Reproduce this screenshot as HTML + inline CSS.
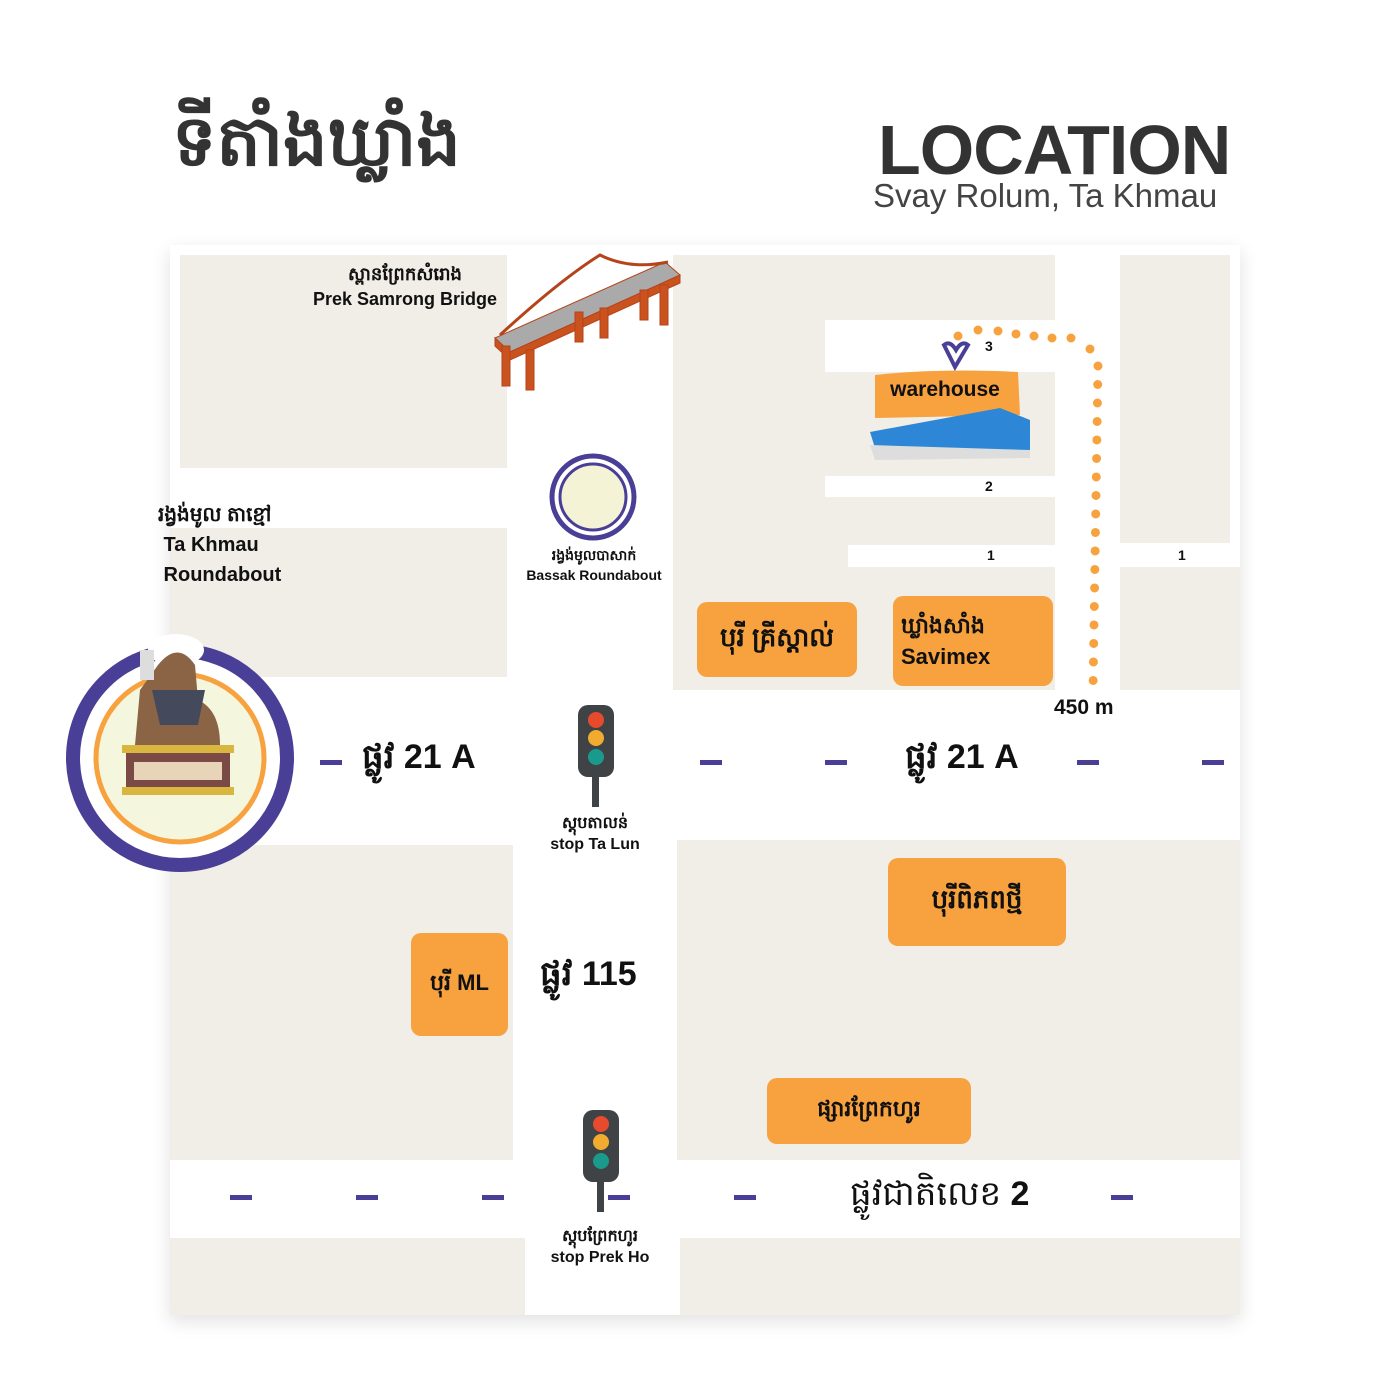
<!DOCTYPE html>
<html><head><meta charset="utf-8"><style>
body{margin:0;width:1400px;height:1400px;background:#fff;position:relative;overflow:hidden;font-family:"Liberation Sans","Noto Sans CJK SC",sans-serif}
.a{position:absolute}
.b{position:absolute;background:#f1ede7}
.w{position:absolute;background:#fff}
.o{position:absolute;background:#f7a23e;border-radius:10px;display:flex;align-items:center;justify-content:center;font-weight:bold;color:#111;text-align:center}
.d{position:absolute;width:22px;height:5px;background:#4a3f96}
.t{position:absolute;font-weight:bold;color:#111;text-align:center;white-space:nowrap}
.road{position:absolute;font-weight:bold;color:#111;font-size:34px;white-space:nowrap}
</style></head><body>
<div class="a" style="left:172px;top:98px;font-size:70px;font-weight:bold;color:#333">ទីតាំងឃ្លាំង</div>
<div class="a" style="left:878px;top:110px;font-size:70px;font-weight:bold;color:#333;letter-spacing:-1px">LOCATION</div>
<div class="a" style="left:873px;top:177px;font-size:33px;color:#444">Svay Rolum, Ta Khmau</div>

<div class="a" style="left:170px;top:245px;width:1070px;height:1070px;background:#fff;box-shadow:0 6px 18px rgba(0,0,0,0.12)"></div>
<div class="b" style="left:180px;top:255px;width:327px;height:213px"></div>
<div class="b" style="left:170px;top:528px;width:337px;height:149px"></div>
<div class="b" style="left:673px;top:255px;width:382px;height:435px"></div>
<div class="w" style="left:825px;top:320px;width:230px;height:52px"></div>
<div class="w" style="left:825px;top:476px;width:232px;height:21px"></div>
<div class="w" style="left:848px;top:545px;width:392px;height:22px"></div>
<div class="b" style="left:1120px;top:255px;width:110px;height:288px"></div>
<div class="b" style="left:1120px;top:567px;width:120px;height:123px"></div>
<div class="b" style="left:170px;top:845px;width:343px;height:315px"></div>
<div class="b" style="left:677px;top:840px;width:563px;height:320px"></div>
<div class="b" style="left:170px;top:1238px;width:355px;height:77px"></div>
<div class="b" style="left:680px;top:1238px;width:560px;height:77px"></div>

<div class="d" style="left:320px;top:760px"></div>
<div class="d" style="left:700px;top:760px"></div>
<div class="d" style="left:825px;top:760px"></div>
<div class="d" style="left:1077px;top:760px"></div>
<div class="d" style="left:1202px;top:760px"></div>
<div class="d" style="left:230px;top:1195px"></div>
<div class="d" style="left:356px;top:1195px"></div>
<div class="d" style="left:482px;top:1195px"></div>
<div class="d" style="left:608px;top:1195px"></div>
<div class="d" style="left:734px;top:1195px"></div>
<div class="d" style="left:1111px;top:1195px"></div>

<div class="road" style="left:362px;top:735px">ផ្លូវ 21 A</div>
<div class="road" style="left:905px;top:735px">ផ្លូវ 21 A</div>
<div class="road" style="left:540px;top:952px">ផ្លូវ 115</div>
<div class="road" style="left:850px;top:1172px;font-weight:normal">ផ្លូវជាតិលេខ <b>2</b></div>

<svg class="a" style="left:0;top:0" width="1400" height="1400">
<g stroke="#b5441b" fill="#c9521f">
<polygon points="495,338 665,262 680,275 510,352" fill="#aaa"/>
<polygon points="495,338 510,352 510,360 495,346"/>
<polygon points="510,352 680,275 680,283 510,360"/>
<rect x="502" y="346" width="8" height="40"/><rect x="526" y="350" width="8" height="40"/>
<rect x="575" y="312" width="8" height="30"/><rect x="600" y="308" width="8" height="30"/>
<rect x="640" y="290" width="8" height="30"/><rect x="660" y="285" width="8" height="40"/>
<path d="M500,335 Q560,280 600,255 Q630,270 668,262" fill="none" stroke-width="3"/>
</g>
<circle cx="593" cy="497" r="41" fill="#fff" stroke="#4a3f96" stroke-width="5"/>
<circle cx="593" cy="497" r="33" fill="#f5f3d5" stroke="#4a3f96" stroke-width="3"/>
<circle cx="180" cy="758" r="107" fill="#fff" stroke="#4a3f96" stroke-width="14"/>
<circle cx="180" cy="758" r="84" fill="#f4f6dd" stroke="#f7a23e" stroke-width="5"/>
<ellipse cx="176" cy="650" rx="28" ry="16" fill="#fff"/>
<path d="M158,665 Q178,640 195,665 L198,700 Q220,710 220,745 L135,745 L140,690 Z" fill="#8b6446"/>
<path d="M152,690 L205,690 L198,725 L160,725 Z" fill="#444a5c"/>
<rect x="140" y="650" width="14" height="30" fill="#ddd"/>
<rect x="122" y="745" width="112" height="8" fill="#d9b640"/>
<rect x="126" y="753" width="104" height="34" fill="#7b4a45"/>
<rect x="134" y="762" width="88" height="18" fill="#e8d4b8"/>
<rect x="122" y="787" width="112" height="8" fill="#d9b640"/>
<g fill="#f7a23e">
<circle cx="958" cy="336" r="4.5"/><circle cx="978" cy="330" r="4.5"/><circle cx="998" cy="331" r="4.5"/><circle cx="1016" cy="334" r="4.5"/><circle cx="1034" cy="336" r="4.5"/><circle cx="1052" cy="338" r="4.5"/><circle cx="1071" cy="338" r="4.5"/><circle cx="1090" cy="349" r="4.5"/>
</g>
<line x1="1098" y1="366" x2="1093" y2="690" stroke="#f7a23e" stroke-width="9" stroke-dasharray="0 18.5" stroke-linecap="round"/>
<path d="M944,345 L955,367 L968,345 Q962,340 956,350 Q950,340 944,345Z" fill="none" stroke="#4a3f96" stroke-width="4"/>
<path d="M875,375 Q940,368 1018,372 L1020,415 L875,418 Z" fill="#f7a23e"/>
<polygon points="870,432 1000,408 1030,420 1030,455 875,448" fill="#2e86d6"/>
<polygon points="870,445 875,460 1030,458 1030,450" fill="#ddd"/>
<rect x="1015" y="610" width="22" height="60" fill="#d42b2b"/><rect x="1010" y="605" width="34" height="8" rx="4" fill="#d42b2b"/>
<rect x="1020" y="625" width="12" height="12" fill="#eee"/>
<g>
<rect x="578" y="705" width="36" height="72" rx="10" fill="#3f4346"/>
<circle cx="596" cy="720" r="8" fill="#e84a2e"/><circle cx="596" cy="738" r="8" fill="#f1ac2f"/><circle cx="596" cy="757" r="8" fill="#1a9a8c"/>
<rect x="592" y="777" width="7" height="30" fill="#3f4346"/>
<rect x="583" y="1110" width="36" height="72" rx="10" fill="#3f4346"/>
<circle cx="601" cy="1124" r="8" fill="#e84a2e"/><circle cx="601" cy="1142" r="8" fill="#f1ac2f"/><circle cx="601" cy="1161" r="8" fill="#1a9a8c"/>
<rect x="597" y="1182" width="7" height="30" fill="#3f4346"/>
</g>
</svg>

<div class="t" style="left:300px;top:262px;width:210px;font-size:18px">ស្ពានព្រែកសំរោង<br>Prek Samrong Bridge</div>
<div class="t" style="left:158px;top:500px;font-size:20px;text-align:left;line-height:30px">រង្វង់មូល តាខ្មៅ<br>&nbsp;Ta Khmau<br>&nbsp;Roundabout</div>
<div class="t" style="left:515px;top:546px;width:158px;font-size:14px">រង្វង់មូលបាសាក់<br>Bassak Roundabout</div>
<div class="t" style="left:880px;top:378px;width:130px;font-size:21px">warehouse</div>
<div class="t" style="left:985px;top:338px;font-size:14px">3</div>
<div class="t" style="left:985px;top:478px;font-size:14px">2</div>
<div class="t" style="left:987px;top:547px;font-size:14px">1</div>
<div class="t" style="left:1178px;top:547px;font-size:14px">1</div>
<div class="t" style="left:1054px;top:696px;font-size:21px">450 m</div>
<div class="o" style="left:697px;top:602px;width:160px;height:75px;font-size:26px">បុរី គ្រីស្តាល់</div>
<div class="o" style="left:893px;top:596px;width:160px;height:90px;font-size:22px;justify-content:flex-start;padding-left:8px;box-sizing:border-box;text-align:left">ឃ្លាំងសាំង<br>Savimex</div>
<div class="t" style="left:540px;top:812px;width:110px;font-size:16px">ស្តុបតាលន់<br>stop Ta Lun</div>
<div class="o" style="left:888px;top:858px;width:178px;height:88px;font-size:26px">បុរីពិភពថ្មី</div>
<div class="o" style="left:411px;top:933px;width:97px;height:103px;font-size:22px">បុរី ML</div>
<div class="o" style="left:767px;top:1078px;width:204px;height:66px;font-size:22px">ផ្សារព្រែកហូរ</div>
<div class="t" style="left:540px;top:1225px;width:120px;font-size:16px">ស្តុបព្រែកហូរ<br>stop Prek Ho</div>
</body></html>
